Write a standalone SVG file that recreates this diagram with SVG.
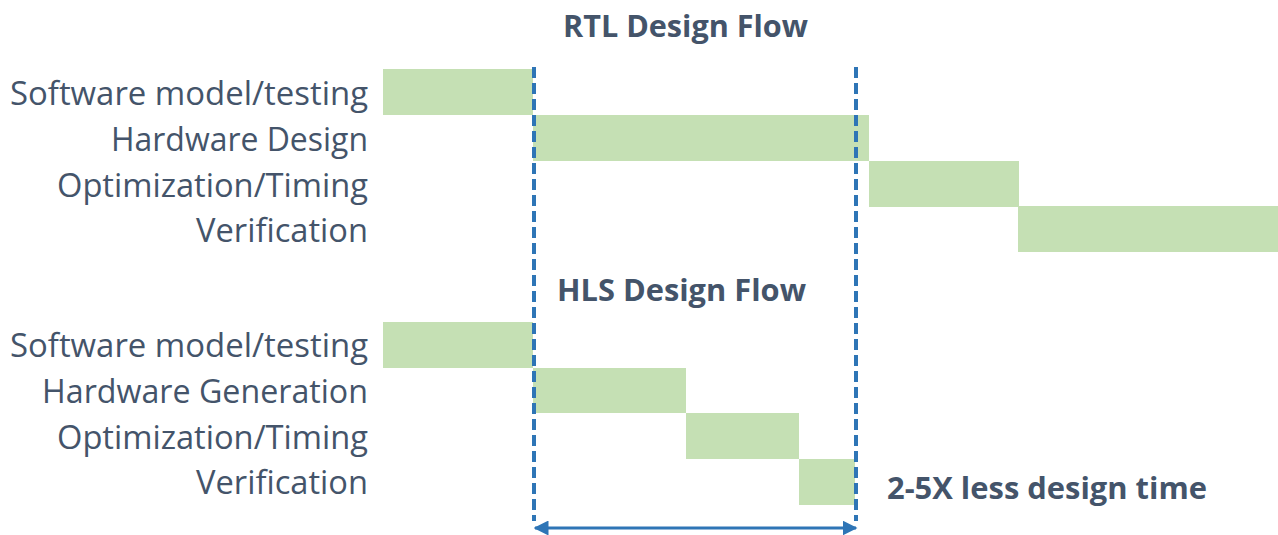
<svg xmlns="http://www.w3.org/2000/svg" width="1278" height="535" viewBox="0 0 1278 535">
  <defs>
    <style>
      .lbl { font-family: "Open Sans", "Liberation Sans", sans-serif; font-size: 33px; fill: #44546A; text-anchor: end; }
      .ttl { font-family: "Open Sans", "Liberation Sans", sans-serif; font-size: 31px; font-weight: bold; fill: #44546A; }
      .bar { fill: #C5E0B4; }
      .guide { stroke: #2E75B6; stroke-width: 4; stroke-dasharray: 11 5; fill: none; }
      .span { stroke: #2E75B6; stroke-width: 3; fill: none; }
    </style>
    <marker id="head" viewBox="0 0 10 10" refX="9" refY="5" markerWidth="5" markerHeight="5" orient="auto-start-reverse" markerUnits="strokeWidth">
      <path d="M0,0 L10,5 L0,10 z" fill="#2E75B6"/>
    </marker>
  </defs>
  <rect width="1278" height="535" fill="#ffffff"/>

  <!-- RTL flow -->
  <text class="ttl" x="563" y="37" textLength="245" lengthAdjust="spacingAndGlyphs">RTL Design Flow</text>
  <g id="rtl-software">
    <rect class="bar" x="383" y="69" width="150" height="46"/>
    <text class="lbl" x="368" y="105" textLength="358" lengthAdjust="spacingAndGlyphs">Software model/testing</text>
  </g>
  <g id="rtl-hardware">
    <rect class="bar" x="533" y="115" width="336" height="46"/>
    <text class="lbl" x="368" y="151" textLength="257" lengthAdjust="spacingAndGlyphs">Hardware Design</text>
  </g>
  <g id="rtl-optimization">
    <rect class="bar" x="869" y="161" width="150" height="46"/>
    <text class="lbl" x="368" y="197" textLength="311" lengthAdjust="spacingAndGlyphs">Optimization/Timing</text>
  </g>
  <g id="rtl-verification">
    <rect class="bar" x="1018" y="206" width="260" height="46"/>
    <text class="lbl" x="368" y="242" textLength="172" lengthAdjust="spacingAndGlyphs">Verification</text>
  </g>

  <!-- HLS flow -->
  <text class="ttl" x="557" y="301" textLength="249" lengthAdjust="spacingAndGlyphs">HLS Design Flow</text>
  <g id="hls-software">
    <rect class="bar" x="383" y="322" width="150" height="46"/>
    <text class="lbl" x="368" y="357" textLength="358" lengthAdjust="spacingAndGlyphs">Software model/testing</text>
  </g>
  <g id="hls-hardware">
    <rect class="bar" x="533" y="368" width="153" height="45"/>
    <text class="lbl" x="368" y="403" textLength="326" lengthAdjust="spacingAndGlyphs">Hardware Generation</text>
  </g>
  <g id="hls-optimization">
    <rect class="bar" x="686" y="413" width="113" height="46"/>
    <text class="lbl" x="368" y="449" textLength="311" lengthAdjust="spacingAndGlyphs">Optimization/Timing</text>
  </g>
  <g id="hls-verification">
    <rect class="bar" x="799" y="459" width="56" height="46"/>
    <text class="lbl" x="368" y="494" textLength="172" lengthAdjust="spacingAndGlyphs">Verification</text>
  </g>

  <g id="savings">
    <text class="ttl" x="887" y="499" textLength="320" lengthAdjust="spacingAndGlyphs">2-5X less design time</text>
  </g>

  <!-- guides and span arrow -->
  <g id="connectors">
    <line class="guide" x1="534" y1="67" x2="534" y2="521"/>
    <line class="guide" x1="856" y1="67" x2="856" y2="521"/>
    <line class="span" x1="535" y1="528" x2="856" y2="528" marker-start="url(#head)" marker-end="url(#head)"/>
  </g>
</svg>
